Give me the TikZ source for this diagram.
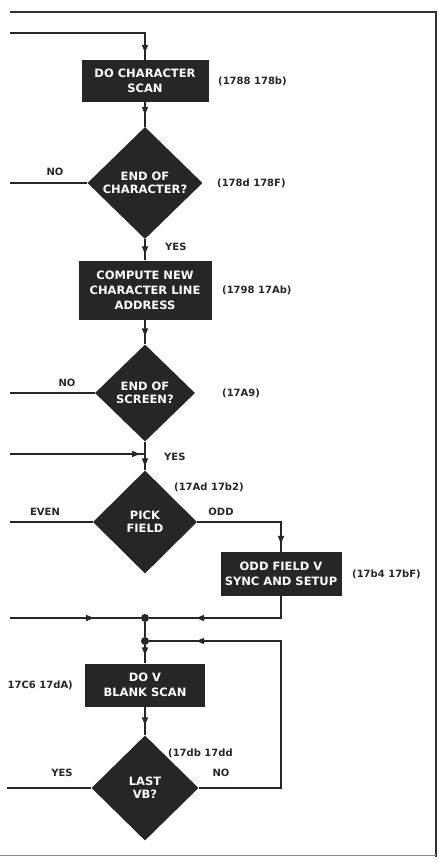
\documentclass[tikz,border=0pt]{standalone}
\usepackage{fontspec}
\setmainfont{DejaVu Sans}
\usepackage{tikz}
\usetikzlibrary{arrows.meta, positioning, shapes.geometric, decorations.markings, calc}

\begin{document}
\begin{tikzpicture}[x=1pt, y=-1pt,
  flow/.style={line width=1.6pt, draw=black!85},
  arr/.style={postaction={decorate}, decoration={markings,
      mark=at position #1 with {\arrow{Triangle[length=8pt,width=6pt]}}}},
  stepbox/.style={rectangle, fill=black!85, text=white, align=center,
      font=\bfseries\fontsize{11.5}{15}\selectfont, inner sep=0pt},
  testbox/.style={diamond, fill=black!85, text=white, align=center,
      font=\bfseries\fontsize{11.5}{13}\selectfont, inner sep=0pt},
  junct/.style={circle, fill=black!85, inner sep=0pt, minimum size=8pt},
  tag/.style={font=\bfseries\fontsize{10}{12}\selectfont, text=black!85, inner sep=0pt},
  addr/.style={tag, anchor=west}]
\useasboundingbox (0,0) rectangle (439,863);

% frame
\draw[line width=2.5pt, black!80] (10,12) -- (436,12);
\draw[line width=2pt, black!80] (436,11) -- (436,857);
\draw[line width=1pt, black!45] (0,855) -- (436,855);

% steps and tests
\node[stepbox, minimum width=127pt, minimum height=42pt] (scan) at (145,81) {DO CHARACTER\\SCAN};
\node[testbox, minimum width=115pt, minimum height=112pt] (endchar) at (145,183) {END OF\\CHARACTER?};
\node[stepbox, minimum width=133pt, minimum height=59pt] (newline) at (145,290) {COMPUTE NEW\\CHARACTER LINE\\ADDRESS};
\node[testbox, minimum width=100pt, minimum height=97pt] (endscr) at (145,393) {END OF\\SCREEN?};
\node[testbox, minimum width=104pt, minimum height=103pt] (pick) at (145,522) {PICK\\FIELD};
\node[stepbox, minimum width=121pt, minimum height=44pt] (oddsync) at (281,574) {ODD FIELD V\\SYNC AND SETUP};
\node[junct] (dotA) at (145,618) {};
\node[junct] (dotB) at (145,641) {};
\node[stepbox, minimum width=120pt, minimum height=43pt] (vblank) at (145,685) {DO V\\BLANK SCAN};
\node[testbox, minimum width=107pt, minimum height=105pt] (lastvb) at (145,788) {LAST\\VB?};

% addresses
\node[addr] (adScan) at (218,81) {(1788 178b)};
\node[addr] (adChar) at (217,183) {(178d 178F)};
\node[addr] (adLine) at (222,290) {(1798 17Ab)};
\node[addr] (adScr) at (222,393) {(17A9)};
\node[addr] (adPick) at (174,487) {(17Ad 17b2)};
\node[addr] (adOdd) at (352,574) {(17b4 17bF)};
\node[tag, anchor=east] (adBlank) at (73,685) {17C6 17dA)};
\node[addr] (adLast) at (168,753) {(17db 17dd};

% branch labels
\node[tag] (noChar) at (55,172) {NO};
\node[tag, anchor=west] (yesChar) at (165,247) {YES};
\node[tag] (noScr) at (67,383) {NO};
\node[tag, anchor=west] (yesScr) at (164,457) {YES};
\node[tag] (evenPick) at (45,512) {EVEN};
\node[tag] (oddPick) at (221,512) {ODD};
\node[tag] (yesLast) at (62,773) {YES};
\node[tag] (noLast) at (221,773) {NO};

% free ends
\coordinate (inTop) at (10,33);
\coordinate (outChar) at (10,183);
\coordinate (outScr) at (10,393);
\coordinate (inScr) at (10,454);
\coordinate (joinScr) at (145,454);
\coordinate (outEven) at (10,522);
\coordinate (inDot) at (10,618);
\coordinate (outLast) at (7,788);
\coordinate (loopLast) at (oddsync.south |- lastvb.east);

% connectors
\draw[flow, arr=-7pt] (inTop) -| (scan.north);
\draw[flow, arr=-12pt] (scan) -- (endchar);
\draw[flow] (endchar.west) -- (outChar);
\draw[flow, arr=-6pt] (endchar) -- (newline);
\draw[flow, arr=-8pt] (newline) -- (endscr);
\draw[flow] (endscr.west) -- (outScr);
\draw[flow, arr=-4pt] (endscr) -- (pick);
\draw[flow, arr=-5pt] (inScr) -- (joinScr);
\draw[flow] (pick.west) -- (outEven);
\draw[flow, arr=-8pt] (pick.east) -| (oddsync.north);
\draw[flow, arr=-47pt] (oddsync.south) |- (dotA);
\draw[flow, arr=84pt] (inDot) -- (dotA);
\draw[flow] (dotA) -- (dotB);
\draw[flow, arr=-8pt] (dotB) -- (vblank);
\draw[flow, arr=-10pt] (vblank) -- (lastvb);
\draw[flow] (lastvb.west) -- (outLast);
\draw[flow, arr=-47pt] (lastvb.east) -- (loopLast) |- (dotB);
\end{tikzpicture}
\end{document}
